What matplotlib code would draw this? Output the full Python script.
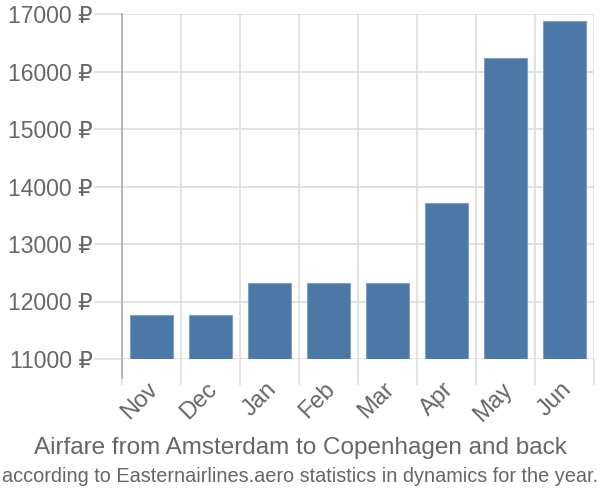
import matplotlib
matplotlib.use('Agg')
import matplotlib.pyplot as plt
import matplotlib.transforms as mtransforms
from matplotlib import font_manager
import numpy as np

plt.rcParams['font.family'] = ['Liberation Sans', 'DejaVu Sans']

# ================= DATA =================
months = ['Nov', 'Dec', 'Jan', 'Feb', 'Mar', 'Apr', 'May', 'Jun']
prices = [11760, 11760, 12315, 12315, 12315, 13720, 16240, 16885]
y_ticks = [11000, 12000, 13000, 14000, 15000, 16000, 17000]

title_line1 = 'Airfare from Amsterdam to Copenhagen and back'
title_line2 = 'according to Easternairlines.aero statistics in dynamics for the year.'

# ================= PLOT =================
bar_color = '#4c78a8'
grid_color = '#dddddd'
text_color = '#666666'

# narrow font for the long subtitle line, if available
names = {f.name for f in font_manager.fontManager.ttflist}
narrow = 'Liberation Sans Narrow' if 'Liberation Sans Narrow' in names else None

fig = plt.figure(figsize=(6, 5), dpi=100)
ax = fig.add_axes([0.203, 0.282, 0.787, 0.690])

x = np.arange(len(months))
ax.bar(x, [p - y_ticks[0] for p in prices], bottom=y_ticks[0], width=0.72,
       color=bar_color, edgecolor='#7fa0c4', linewidth=0.8, zorder=3)

ax.set_xlim(-0.5, len(months) - 0.5)
ax.set_ylim(y_ticks[0], y_ticks[-1])

ax.set_yticks(y_ticks)
ax.set_yticklabels([f'{v} ₽' for v in y_ticks])
ax.set_xticks(x)
ax.set_xticklabels([])

# rotated month labels, placed by hand so they can sit a bit left of centre
shift = mtransforms.ScaledTranslation(-3 / 72, -14 / 72, fig.dpi_scale_trans)
for i, m in enumerate(months):
    ax.text(i, 0, m, transform=ax.get_xaxis_transform() + shift,
            rotation=45, ha='right', va='top', rotation_mode='anchor',
            fontsize=17, color=text_color)

# vertical grid at category boundaries
ax.set_xticks(np.arange(len(months) + 1) - 0.5, minor=True)
ax.grid(True, which='minor', axis='x', color=grid_color, linewidth=1.2, zorder=0)
ax.grid(True, which='major', axis='y', color=grid_color, linewidth=1.2, zorder=0)
ax.tick_params(axis='x', which='minor', length=19, color=grid_color, width=1.2)
ax.tick_params(axis='x', which='major', length=0)
ax.tick_params(axis='y', length=20, color=grid_color, width=1.2, pad=1,
               labelsize=16.5, labelcolor=text_color)

for s in ['top', 'right', 'bottom']:
    ax.spines[s].set_visible(False)
ax.spines['left'].set_color('#aaaaaa')
ax.spines['left'].set_linewidth(1.2)
ax.spines['left'].set_bounds(y_ticks[0] - 330, y_ticks[-1])
ax.spines['left'].set_clip_on(False)

fig.text(0.5, 0.104, title_line1, ha='center', va='center', fontsize=17.5, color=text_color)
if narrow:
    fig.text(0.5, 0.048, title_line2, ha='center', va='center', fontsize=17,
             color=text_color, family=[narrow, 'DejaVu Sans'])
else:
    fig.text(0.5, 0.048, title_line2, ha='center', va='center', fontsize=14.3,
             color=text_color)

fig.savefig('out.png', dpi=100)
